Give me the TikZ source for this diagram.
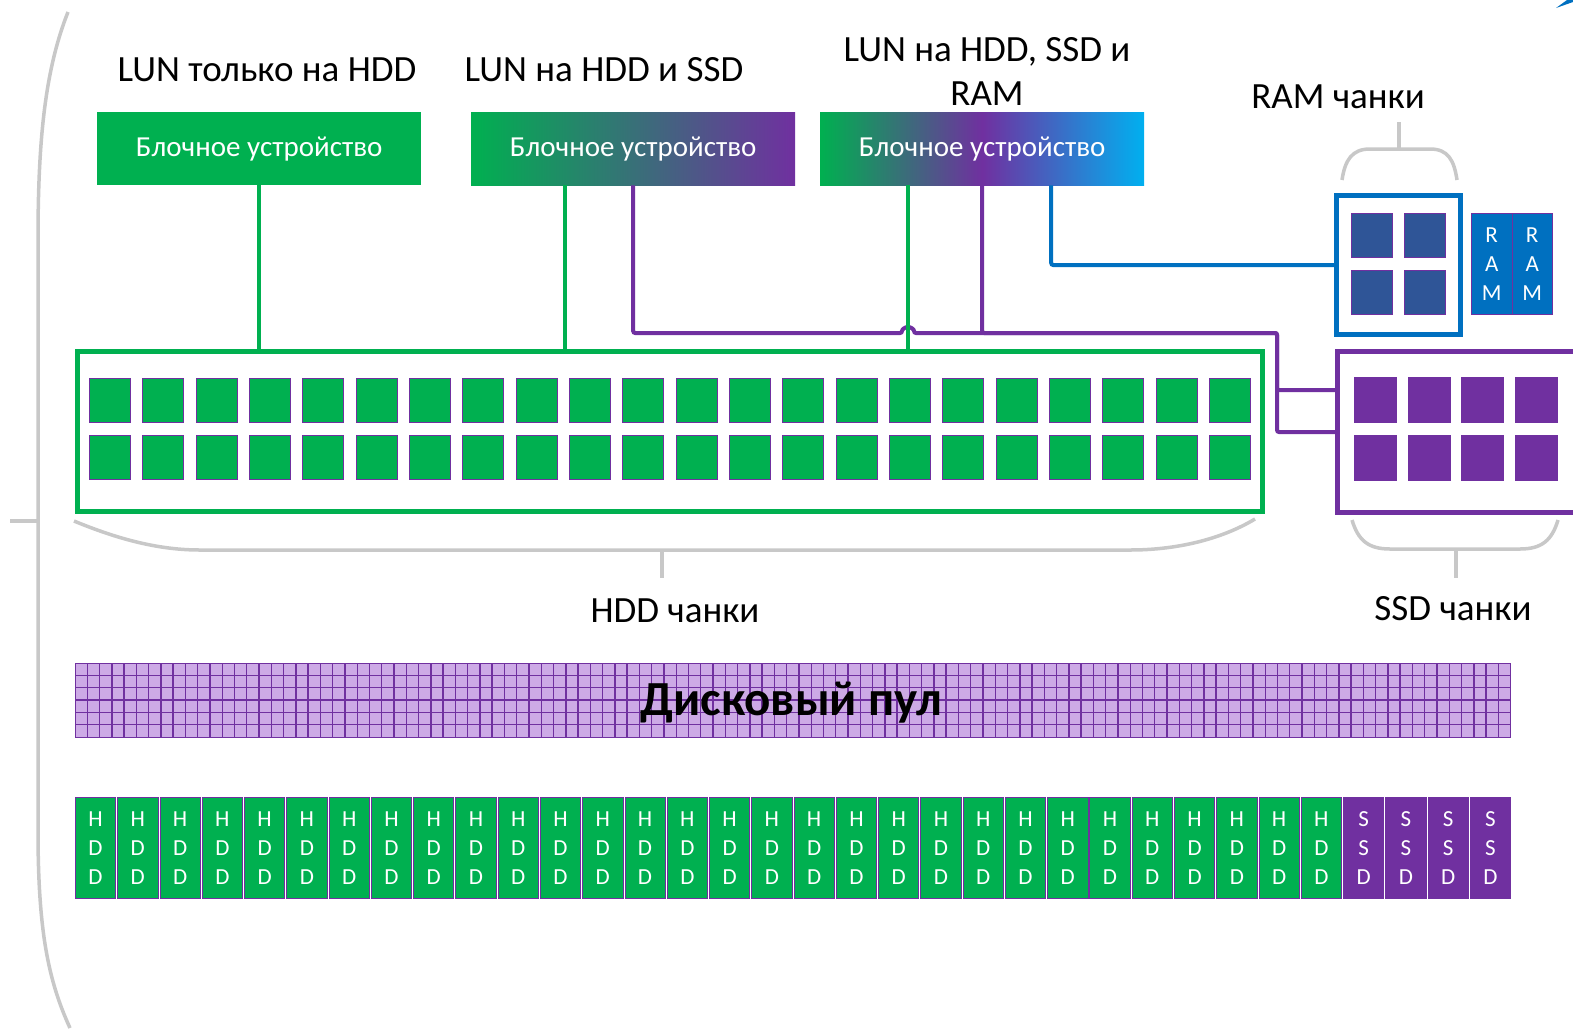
\documentclass[tikz,border=0pt]{standalone}
\usepackage{fontspec}
\setmainfont{Carlito}
\usetikzlibrary{calc}
\definecolor{og}{HTML}{00B050}
\definecolor{op}{HTML}{7030A0}
\definecolor{ob}{HTML}{0070C0}
\definecolor{oc}{HTML}{00B0F0}
\definecolor{odb}{HTML}{2F5597}
\definecolor{poolc}{HTML}{CDAAE6}
\definecolor{brgray}{HTML}{C8C8C8}
\pgfdeclarehorizontalshading{gpc}{100bp}{color(0bp)=(og); color(25bp)=(og); color(50bp)=(op); color(75bp)=(oc); color(100bp)=(oc)}
\tikzset{
  chunkbox/.style={draw=op, line width=0.8pt, minimum width=41pt, minimum height=44pt, inner sep=0pt, anchor=north west},
  blockbox/.style={minimum width=324pt, minimum height=73pt, anchor=north west, text=white, inner sep=0pt, font=\fontsize{29}{33}\selectfont},
  lbl/.style={font=\fontsize{37}{44}\selectfont, align=center, inner sep=0pt},
  diskbox/.style={draw=op, line width=0.8pt, minimum width=40.3pt, minimum height=101pt, inner sep=0pt, anchor=north west, text=white, align=center, font=\fontsize{23}{29}\selectfont},
  gline/.style={draw=og, line width=4pt},
  pline/.style={draw=op, line width=4pt, rounded corners=2pt},
  bline/.style={draw=ob, line width=4pt, rounded corners=2pt},
  brace/.style={draw=brgray, line width=3.5pt},
}
\begin{document}
\begin{tikzpicture}[x=1pt,y=-1pt]
\clip (0,0) rectangle (1573,1031);
\fill[white] (0,0) rectangle (1573,1031);

% corner mark
\fill[ob] (1556,8) -- (1567,0) -- (1573,0) -- (1573,2) -- cycle;

% left bracket
\draw[brace] (68,12) .. controls (45,70) and (38,140) .. (38,240) -- (38,830) .. controls (38,930) and (48,980) .. (70,1028);
\draw[brace] (10,521) -- (38,521);

% labels
\node[lbl] (l1) at (267,70) {LUN только на HDD};
\node[lbl] (l2) at (604,70) {LUN на HDD и SSD};
\node[lbl] (l3) at (987,71) {LUN на HDD, SSD и\\RAM};
\node[lbl] (l4) at (1338,97) {RAM чанки};

% block devices
\node[blockbox, fill=og] (b1) at (97,112) {Блочное устройство};
\node[blockbox, left color=og, right color=op] (b2) at (471,112) {Блочное устройство};
\node[blockbox, shading=gpc] (b3) at (820,112) {Блочное устройство};

% HDD chunk box
\node[draw=og, line width=5pt, minimum width=1185pt, minimum height=160pt, anchor=north west, inner sep=0pt] (hddbox) at (75,349) {};
\foreach \c in {0,...,21} {
  \node[chunkbox, fill=og] (h1-\c) at (89+\c*53.33,378) {};
  \node[chunkbox, fill=og] (h2-\c) at (89+\c*53.33,435) {};
}

% SSD chunk box
\node[draw=op, line width=5pt, minimum width=300pt, minimum height=161pt, anchor=north west, inner sep=0pt] (ssdbox) at (1335,349) {};
\foreach \c in {0,...,3} {
  \node[chunkbox, fill=op, minimum width=42pt, minimum height=45pt] (s1-\c) at (1354+\c*53.7,377) {};
  \node[chunkbox, fill=op, minimum width=42pt, minimum height=45pt] (s2-\c) at (1354+\c*53.7,435) {};
}

% RAM chunk box
\node[draw=ob, line width=5pt, minimum width=124pt, minimum height=139pt, anchor=north west, inner sep=0pt] (rambox) at (1334,193) {};
\node[chunkbox, fill=odb] (r1) at (1351,213) {};
\node[chunkbox, fill=odb] (r2) at (1404,213) {};
\node[chunkbox, fill=odb] (r3) at (1351,270) {};
\node[chunkbox, fill=odb] (r4) at (1404,270) {};
\node[diskbox, fill=ob, minimum width=40.5pt, minimum height=101pt] (ram1) at (1471,213) {R\\A\\M};
\node[diskbox, fill=ob, minimum width=40.5pt, minimum height=101pt] (ram2) at (1511.5,213) {R\\A\\M};

% connectors
\coordinate (pj) at (1277,333);
\coordinate (pk) at (1277,390);
\draw[pline] (b2.south) |- (902,333) arc[start angle=180, end angle=360, radius=6] -- (pj) |- (ssdbox.west);
\draw[pline] (b3.south) |- (pj) -- (pk) -- (pk -| ssdbox.west);
\draw[gline] (b1.south) -- (b1.south |- hddbox.north);
\draw[gline] ([xshift=-68pt]b2.south) -- ([xshift=-68pt]b2.south |- hddbox.north);
\draw[gline] ([xshift=-74pt]b3.south) -- ([xshift=-74pt]b3.south |- hddbox.north);
\draw[bline] ([xshift=69pt]b3.south) |- (rambox.west);

% braces
\draw[brace] (74,521) .. controls (120,540) and (160,550) .. (200,550) -- (1130,550) .. controls (1175,550) and (1220,540) .. (1255,519);
\draw[brace] (662,550) -- (662,578);
\draw[brace] (1342,180) .. controls (1345,160) and (1352,149) .. (1370,149) -- (1430,149) .. controls (1448,149) and (1454,160) .. (1457,180);
\draw[brace] (1399,149) -- (1399,122);
\draw[brace] (1352,520) .. controls (1358,540) and (1368,549) .. (1390,549) -- (1520,549) .. controls (1542,549) and (1552,540) .. (1558,520);
\draw[brace] (1456,549) -- (1456,578);

\node[lbl] (hddl) at (675,611) {HDD чанки};
\node[lbl] (ssdl) at (1453,609) {SSD чанки};

% disk pool
\node[fill=poolc, draw=op, line width=1pt, minimum width=1435pt, minimum height=74pt, anchor=north west, inner sep=0pt] (pool) at (75,663) {};
\foreach \i in {1,...,116} \draw[op, line width=1.4pt] (75+\i*12.27,663) -- (75+\i*12.27,737);
\foreach \j in {1,...,5} \draw[op, line width=1.4pt] (75,663+\j*12.33) -- (1510,663+\j*12.33);
\node[font=\fontsize{49}{55}\selectfont\bfseries, inner sep=0pt] (poolt) at (791,703) {Дисковый пул};

% disks
\foreach \d in {0,...,29} \node[diskbox, fill=og] (hdd\d) at (75+\d*42.27,797) {H\\D\\D};
\foreach \d in {30,...,33} \node[diskbox, fill=op] (ssd\d) at (75+\d*42.27,797) {S\\S\\D};
\end{tikzpicture}
\end{document}
